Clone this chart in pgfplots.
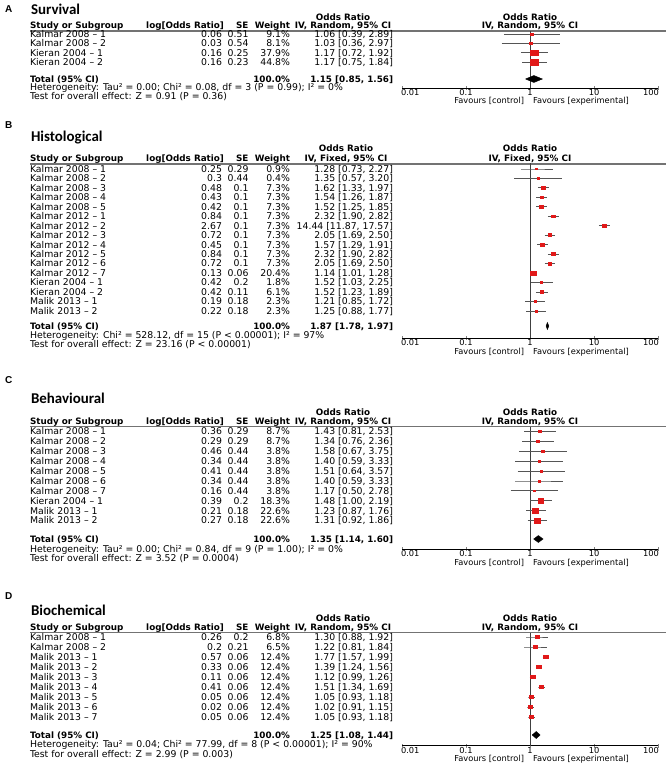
\documentclass[border=0pt]{standalone}
\usepackage{pgfplots}
\pgfplotsset{compat=1.18}
\usepackage{fontspec}
\setmainfont{DejaVu Sans}
\newfontfamily\titlefont{Carlito}
\newfontfamily\letterfont{Liberation Sans}
\definecolor{ored}{RGB}{225,25,25}
\definecolor{cigray}{RGB}{85,85,85}
\newcommand{\tf}{\fontsize{7}{8}\selectfont}
\newcommand{\ts}{\fontsize{6.2}{7}\selectfont}
\newcommand{\tb}{\fontsize{6.6}{7}\selectfont\bfseries}
\pgfplotsset{
  every axis/.append style={
    scale only axis, width=192pt,
    axis x line=bottom, axis y line=none,
    axis line style={-, black, line width=0.7pt},
    xtick={0.01,0.1,1,10,100}, xticklabels={}, xminorticks=false,
    major tick length=3pt, tick align=center,
    clip=false, anchor=south west},
  cibar/.style={cigray, line width=0.65pt, mark=square*, mark indices={2}, mark size=#1,
    mark options={draw=ored, fill=ored, xscale=1.3, solid}},
  diam/.style={fill=black, draw=black, line width=0.3pt, mark=none},
  refline/.style={black!75, line width=0.7pt, mark=none},
}
% one table row: y, name, log OR, SE, weight, OR [CI]
\newcommand\frow[6]{%
 \node[anchor=base west] at (30,#1+3.3) {#2};
 \node[anchor=base east] at (222,#1+3.3) {#3};
 \node[anchor=base east] at (248.5,#1+3.3) {#4};
 \node[anchor=base east] at (290,#1+3.3) {#5};
 \node[anchor=base east] at (393,#1+3.3) {#6};}
% header: letter y, letter, title y, title, OR line y, header y, method, left header centre
\newcommand\fhead[8]{%
 \node[anchor=base west, font=\letterfont\bfseries\fontsize{7.5}{8}\selectfont] at (5,#1+3.8) {#2};
 \node[anchor=base west, font=\titlefont\bfseries\fontsize{11.2}{12}\selectfont] at (31,#3+4.8) {#4};
 \node[anchor=base, font=\tb] at (#8,#5+3.2) {Odds Ratio};
 \node[anchor=base, font=\tb] at (530,#5+3.2) {Odds Ratio};
 \node[anchor=base west, font=\tb] at (30,#6+3.2) {Study or Subgroup};
 \node[anchor=base east, font=\tb] at (224,#6+3.2) {log[Odds Ratio]};
 \node[anchor=base east, font=\tb] at (248.5,#6+3.2) {SE};
 \node[anchor=base east, font=\tb] at (290,#6+3.2) {Weight};
 \node[anchor=base, font=\tb] at (#8,#6+3.2) {IV, #7, 95\% CI};
 \node[anchor=base, font=\tb] at (530,#6+3.2) {IV, #7, 95\% CI};
 \draw[black!55, line width=0.8pt] (30,#6+5.5) -- (666,#6+5.5);}
% total + footer: total y, total, het y, het, test y, test, axis y
\newcommand\ffoot[7]{%
 \node[anchor=base west, font=\tb] at (30,#1+3.2) {Total (95\% CI)};
 \node[anchor=base east, font=\tb] at (290,#1+3.2) {100.0\%};
 \node[anchor=base east, font=\tb] at (393,#1+3.2) {#2};
 \node[anchor=base west] at (30,#3+3.3) {#4};
 \node[anchor=base west] at (30,#5+3.3) {#6};
 \node[anchor=base west, font=\ts] at (401,#7+7.8) {0.01};
 \node[anchor=base, font=\ts] at (466,#7+7.8) {0.1};
 \node[anchor=base, font=\ts] at (530,#7+7.8) {1};
 \node[anchor=base, font=\ts] at (594,#7+7.8) {10};
 \node[anchor=base east, font=\ts] at (659,#7+7.8) {100};
 \node[anchor=base east, font=\ts] at (524,#7+16) {Favours [control]};
 \node[anchor=base west, font=\ts] at (533,#7+16) {Favours [experimental]};}
\begin{document}
\begin{tikzpicture}
\useasboundingbox (0,0) rectangle (501.75pt,-574.5pt);
\begin{scope}[x=0.75pt, y=-0.75pt, every node/.style={font=\tf, inner sep=0pt, outer sep=0pt}]
% ---------- A ----------
\fhead{9}{A}{10}{Survival}{17}{25.5}{Random}{343}
\frow{34.5}{Kalmar 2008 – 1}{0.06}{0.51}{9.1\%}{1.06 [0.39, 2.89]}
\frow{43.7}{Kalmar 2008 – 2}{0.03}{0.54}{8.1\%}{1.03 [0.36, 2.97]}
\frow{52.9}{Kieran 2004 – 1}{0.16}{0.25}{37.9\%}{1.17 [0.72, 1.92]}
\frow{62.1}{Kieran 2004 – 2}{0.16}{0.23}{44.8\%}{1.17 [0.75, 1.84]}
\ffoot{79}{1.15 [0.85, 1.56]}{87.5}{Heterogeneity: Tau² = 0.00; Chi² = 0.08, df = 3 (P = 0.99); I² = 0\%}{96}{Test for overall effect: Z = 0.91 (P = 0.36)}{88}
% ---------- B ----------
\fhead{125}{B}{137}{Histological}{148}{158.5}{Fixed}{346}
\frow{169.0}{Kalmar 2008 – 1}{0.25}{0.29}{0.9\%}{1.28 [0.73, 2.27]}
\frow{178.5}{Kalmar 2008 – 2}{0.3}{0.44}{0.4\%}{1.35 [0.57, 3.20]}
\frow{187.9}{Kalmar 2008 – 3}{0.48}{0.1}{7.3\%}{1.62 [1.33, 1.97]}
\frow{197.4}{Kalmar 2008 – 4}{0.43}{0.1}{7.3\%}{1.54 [1.26, 1.87]}
\frow{206.9}{Kalmar 2008 – 5}{0.42}{0.1}{7.3\%}{1.52 [1.25, 1.85]}
\frow{216.4}{Kalmar 2012 – 1}{0.84}{0.1}{7.3\%}{2.32 [1.90, 2.82]}
\frow{225.8}{Kalmar 2012 – 2}{2.67}{0.1}{7.3\%}{14.44 [11.87, 17.57]}
\frow{235.3}{Kalmar 2012 – 3}{0.72}{0.1}{7.3\%}{2.05 [1.69, 2.50]}
\frow{244.8}{Kalmar 2012 – 4}{0.45}{0.1}{7.3\%}{1.57 [1.29, 1.91]}
\frow{254.2}{Kalmar 2012 – 5}{0.84}{0.1}{7.3\%}{2.32 [1.90, 2.82]}
\frow{263.7}{Kalmar 2012 – 6}{0.72}{0.1}{7.3\%}{2.05 [1.69, 2.50]}
\frow{273.2}{Kalmar 2012 – 7}{0.13}{0.06}{20.4\%}{1.14 [1.01, 1.28]}
\frow{282.6}{Kieran 2004 – 1}{0.42}{0.2}{1.8\%}{1.52 [1.03, 2.25]}
\frow{292.1}{Kieran 2004 – 2}{0.42}{0.11}{6.1\%}{1.52 [1.23, 1.89]}
\frow{301.6}{Malik 2013 – 1}{0.19}{0.18}{2.3\%}{1.21 [0.85, 1.72]}
\frow{311.1}{Malik 2013 – 2}{0.22}{0.18}{2.3\%}{1.25 [0.88, 1.77]}
\ffoot{326}{1.87 [1.78, 1.97]}{335.5}{Heterogeneity: Chi² = 528.12, df = 15 (P < 0.00001); I² = 97\%}{344}{Test for overall effect: Z = 23.16 (P < 0.00001)}{338}
% ---------- C ----------
\fhead{380}{C}{399}{Behavioural}{412}{421}{Random}{343}
\frow{431.5}{Kalmar 2008 – 1}{0.36}{0.29}{8.7\%}{1.43 [0.81, 2.53]}
\frow{441.4}{Kalmar 2008 – 2}{0.29}{0.29}{8.7\%}{1.34 [0.76, 2.36]}
\frow{451.3}{Kalmar 2008 – 3}{0.46}{0.44}{3.8\%}{1.58 [0.67, 3.75]}
\frow{461.2}{Kalmar 2008 – 4}{0.34}{0.44}{3.8\%}{1.40 [0.59, 3.33]}
\frow{471.1}{Kalmar 2008 – 5}{0.41}{0.44}{3.8\%}{1.51 [0.64, 3.57]}
\frow{481.0}{Kalmar 2008 – 6}{0.34}{0.44}{3.8\%}{1.40 [0.59, 3.33]}
\frow{490.9}{Kalmar 2008 – 7}{0.16}{0.44}{3.8\%}{1.17 [0.50, 2.78]}
\frow{500.8}{Kieran 2004 – 1}{0.39}{0.2}{18.3\%}{1.48 [1.00, 2.19]}
\frow{510.7}{Malik 2013 – 1}{0.21}{0.18}{22.6\%}{1.23 [0.87, 1.76]}
\frow{520.6}{Malik 2013 – 2}{0.27}{0.18}{22.6\%}{1.31 [0.92, 1.86]}
\ffoot{539}{1.35 [1.14, 1.60]}{549}{Heterogeneity: Tau² = 0.00; Chi² = 0.84, df = 9 (P = 1.00); I² = 0\%}{558.5}{Test for overall effect: Z = 3.52 (P = 0.0004)}{549}
% ---------- D ----------
\fhead{596}{D}{611}{Biochemical}{618}{627}{Random}{343}
\frow{637}{Kalmar 2008 – 1}{0.26}{0.2}{6.8\%}{1.30 [0.88, 1.92]}
\frow{647}{Kalmar 2008 – 2}{0.2}{0.21}{6.5\%}{1.22 [0.81, 1.84]}
\frow{657}{Malik 2013 – 1}{0.57}{0.06}{12.4\%}{1.77 [1.57, 1.99]}
\frow{667}{Malik 2013 – 2}{0.33}{0.06}{12.4\%}{1.39 [1.24, 1.56]}
\frow{677}{Malik 2013 – 3}{0.11}{0.06}{12.4\%}{1.12 [0.99, 1.26]}
\frow{687}{Malik 2013 – 4}{0.41}{0.06}{12.4\%}{1.51 [1.34, 1.69]}
\frow{697}{Malik 2013 – 5}{0.05}{0.06}{12.4\%}{1.05 [0.93, 1.18]}
\frow{707}{Malik 2013 – 6}{0.02}{0.06}{12.4\%}{1.02 [0.91, 1.15]}
\frow{717}{Malik 2013 – 7}{0.05}{0.06}{12.4\%}{1.05 [0.93, 1.18]}
\ffoot{735}{1.25 [1.08, 1.44]}{744.5}{Heterogeneity: Tau² = 0.04; Chi² = 77.99, df = 8 (P < 0.00001); I² = 90\%}{754}{Test for overall effect: Z = 2.99 (P = 0.003)}{745.5}
\end{scope}
% ---------- plots ----------
\begin{axis}[xmode=log, xmin=0.01, xmax=100, at={(301.5pt,-66pt)}, height=42.75pt, ymin=-88, ymax=-31]
\addplot[refline] coordinates {(1,-88) (1,-31)};
\addplot[cibar=0.85] coordinates {(0.39,-34.5) (1.06,-34.5) (2.89,-34.5)};
\addplot[cibar=0.8]  coordinates {(0.36,-43.7) (1.03,-43.7) (2.97,-43.7)};
\addplot[cibar=2.1]  coordinates {(0.72,-52.9) (1.17,-52.9) (1.92,-52.9)};
\addplot[cibar=2.3]  coordinates {(0.75,-62.1) (1.17,-62.1) (1.84,-62.1)};
\addplot[diam] coordinates {(0.85,-79) (1.15,-75.5) (1.56,-79) (1.15,-82.5) (0.85,-79)};
\end{axis}
\begin{axis}[xmode=log, xmin=0.01, xmax=100, at={(301.5pt,-253.5pt)}, height=130.875pt, ymin=-338, ymax=-163.5]
\addplot[refline] coordinates {(1,-338) (1,-163.5)};
\addplot[cibar=0.55] coordinates {(0.73,-169.0) (1.28,-169.0) (2.27,-169.0)};
\addplot[cibar=0.45] coordinates {(0.57,-178.5) (1.35,-178.5) (3.20,-178.5)};
\addplot[cibar=1.05] coordinates {(1.33,-187.9) (1.62,-187.9) (1.97,-187.9)};
\addplot[cibar=1.05] coordinates {(1.26,-197.4) (1.54,-197.4) (1.87,-197.4)};
\addplot[cibar=1.05] coordinates {(1.25,-206.9) (1.52,-206.9) (1.85,-206.9)};
\addplot[cibar=1.05] coordinates {(1.90,-216.4) (2.32,-216.4) (2.82,-216.4)};
\addplot[cibar=1.05] coordinates {(11.87,-225.8) (14.44,-225.8) (17.57,-225.8)};
\addplot[cibar=1.05] coordinates {(1.69,-235.3) (2.05,-235.3) (2.50,-235.3)};
\addplot[cibar=1.05] coordinates {(1.29,-244.8) (1.57,-244.8) (1.91,-244.8)};
\addplot[cibar=1.05] coordinates {(1.90,-254.2) (2.32,-254.2) (2.82,-254.2)};
\addplot[cibar=1.05] coordinates {(1.69,-263.7) (2.05,-263.7) (2.50,-263.7)};
\addplot[cibar=1.6]  coordinates {(1.01,-273.2) (1.14,-273.2) (1.28,-273.2)};
\addplot[cibar=0.65] coordinates {(1.03,-282.6) (1.52,-282.6) (2.25,-282.6)};
\addplot[cibar=0.95] coordinates {(1.23,-292.1) (1.52,-292.1) (1.89,-292.1)};
\addplot[cibar=0.7]  coordinates {(0.85,-301.6) (1.21,-301.6) (1.72,-301.6)};
\addplot[cibar=0.7]  coordinates {(0.88,-311.1) (1.25,-311.1) (1.77,-311.1)};
\addplot[diam] coordinates {(1.78,-326) (1.87,-322.5) (1.97,-326) (1.87,-329.5) (1.78,-326)};
\end{axis}
\begin{axis}[xmode=log, xmin=0.01, xmax=100, at={(301.5pt,-411.75pt)}, height=91.875pt, ymin=-549, ymax=-426.5]
\addplot[refline] coordinates {(1,-549) (1,-426.5)};
\addplot[cibar=1.0] coordinates {(0.81,-431.5) (1.43,-431.5) (2.53,-431.5)};
\addplot[cibar=1.0] coordinates {(0.76,-441.4) (1.34,-441.4) (2.36,-441.4)};
\addplot[cibar=0.7] coordinates {(0.67,-451.3) (1.58,-451.3) (3.75,-451.3)};
\addplot[cibar=0.7] coordinates {(0.59,-461.2) (1.40,-461.2) (3.33,-461.2)};
\addplot[cibar=0.7] coordinates {(0.64,-471.1) (1.51,-471.1) (3.57,-471.1)};
\addplot[cibar=0.7] coordinates {(0.59,-481.0) (1.40,-481.0) (3.33,-481.0)};
\addplot[cibar=0.7] coordinates {(0.50,-490.9) (1.17,-490.9) (2.78,-490.9)};
\addplot[cibar=1.6] coordinates {(1.00,-500.8) (1.48,-500.8) (2.19,-500.8)};
\addplot[cibar=1.8] coordinates {(0.87,-510.7) (1.23,-510.7) (1.76,-510.7)};
\addplot[cibar=1.8] coordinates {(0.92,-520.6) (1.31,-520.6) (1.86,-520.6)};
\addplot[diam] coordinates {(1.14,-539) (1.35,-535.5) (1.60,-539) (1.35,-542.5) (1.14,-539)};
\end{axis}
\begin{axis}[xmode=log, xmin=0.01, xmax=100, at={(301.5pt,-559.125pt)}, height=84.75pt, ymin=-745.5, ymax=-632.5]
\addplot[refline] coordinates {(1,-745.5) (1,-632.5)};
\addplot[cibar=1.0]  coordinates {(0.88,-637) (1.30,-637) (1.92,-637)};
\addplot[cibar=0.95] coordinates {(0.81,-647) (1.22,-647) (1.84,-647)};
\addplot[cibar=1.3]  coordinates {(1.57,-657) (1.77,-657) (1.99,-657)};
\addplot[cibar=1.3]  coordinates {(1.24,-667) (1.39,-667) (1.56,-667)};
\addplot[cibar=1.3]  coordinates {(0.99,-677) (1.12,-677) (1.26,-677)};
\addplot[cibar=1.3]  coordinates {(1.34,-687) (1.51,-687) (1.69,-687)};
\addplot[cibar=1.3]  coordinates {(0.93,-697) (1.05,-697) (1.18,-697)};
\addplot[cibar=1.3]  coordinates {(0.91,-707) (1.02,-707) (1.15,-707)};
\addplot[cibar=1.3]  coordinates {(0.93,-717) (1.05,-717) (1.18,-717)};
\addplot[diam] coordinates {(1.08,-735) (1.25,-731.5) (1.44,-735) (1.25,-738.5) (1.08,-735)};
\end{axis}
\end{tikzpicture}
\end{document}
